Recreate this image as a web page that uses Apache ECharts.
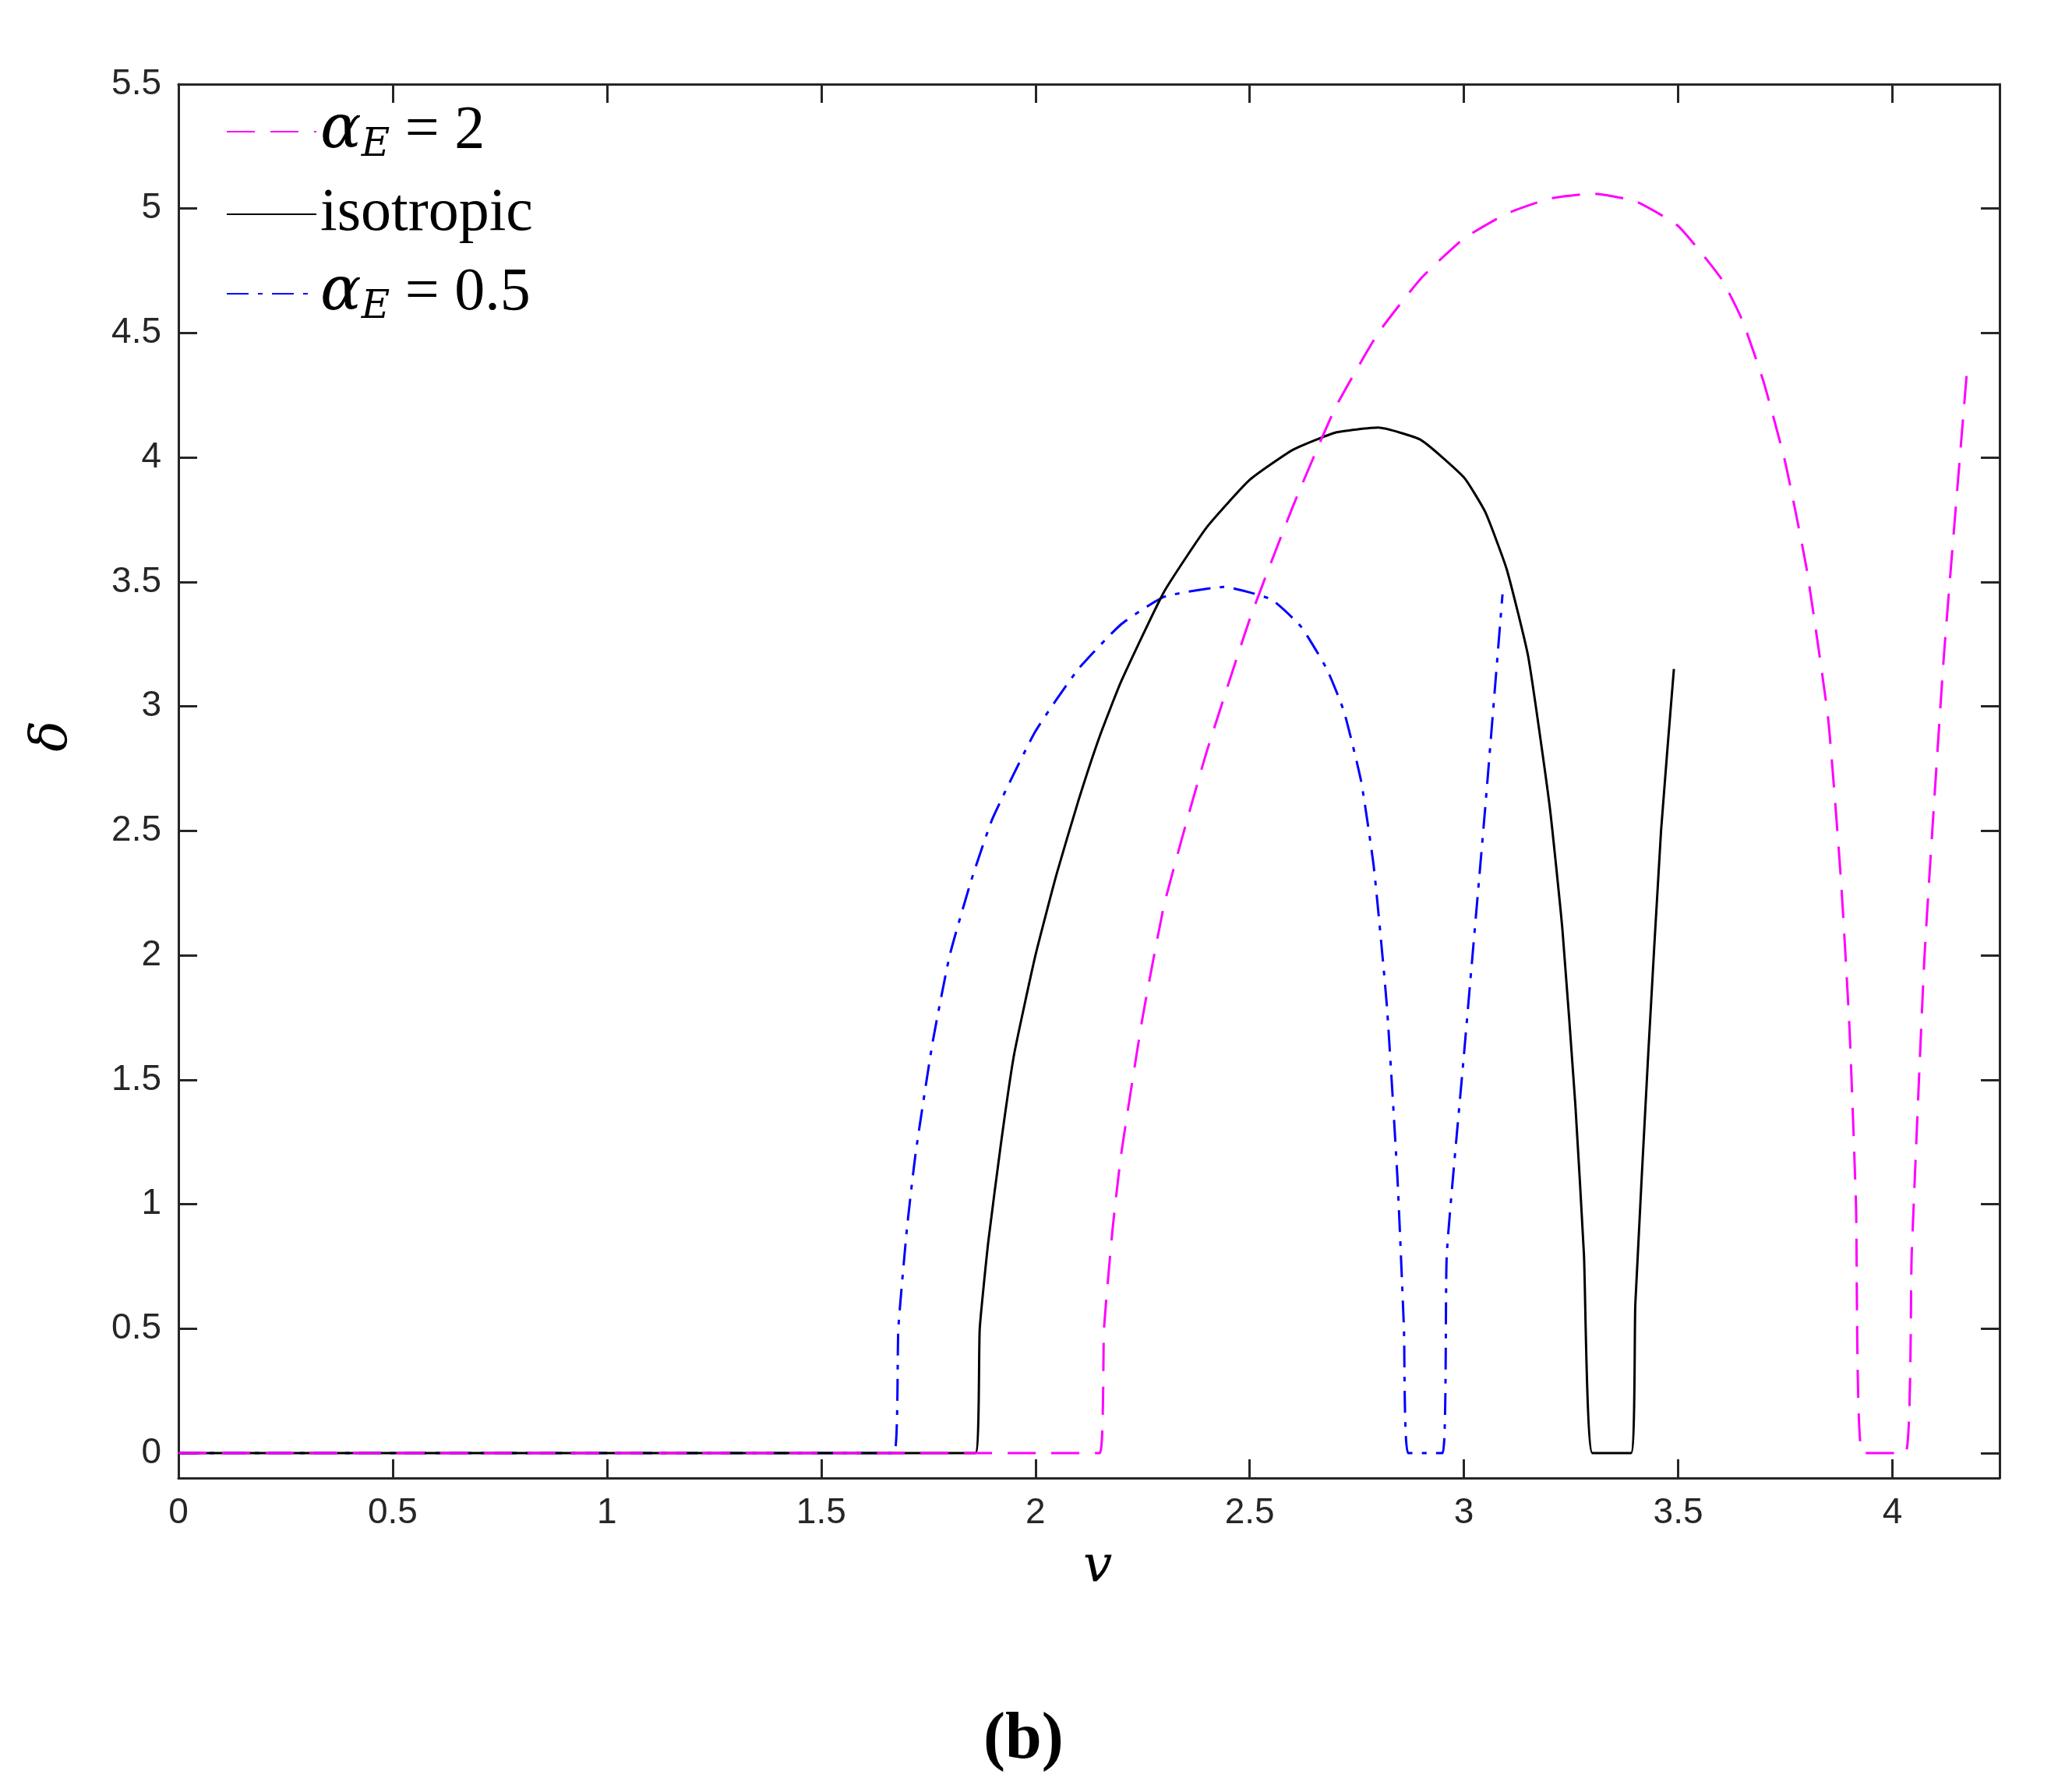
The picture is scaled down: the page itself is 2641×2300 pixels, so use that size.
<!DOCTYPE html>
<html>
<head>
<meta charset="utf-8">
<script src="https://cdn.jsdelivr.net/npm/echarts@6/dist/echarts.min.js"></script>
<style>
    html, body { margin: 0; padding: 0; background: #fff; }
    #chart { width: 2641px; height: 2300px; }
</style>
</head>
<body>
<div id="chart"></div>
<script>
    // alpha_E = 2 (magenta dashed)
    var magentaData = [[0, 0], [2.15, 0], [2.16, 0.5], [2.18, 0.9], [2.2, 1.2], [2.25, 1.75], [2.3, 2.2], [2.35, 2.52], [2.4, 2.82],
        [2.5, 3.35], [2.6, 3.8], [2.7, 4.2], [2.8, 4.5], [2.9, 4.72], [3.0, 4.88], [3.1, 4.98], [3.2, 5.04], [3.3, 5.06],
        [3.4, 5.03], [3.5, 4.93], [3.6, 4.72], [3.65, 4.55], [3.7, 4.3], [3.75, 3.98], [3.8, 3.55], [3.85, 2.95],
        [3.88, 2.3], [3.9, 1.7], [3.915, 1.0], [3.93, 0],
        [4.03, 0], [4.045, 0.8], [4.075, 2.0], [4.12, 3.2], [4.175, 4.37]];
    // isotropic (black solid)
    var blackData = [[0, 0], [1.86, 0], [1.87, 0.5], [1.89, 0.85], [1.92, 1.25], [1.95, 1.6], [2.0, 2.0], [2.05, 2.33],
        [2.1, 2.62], [2.15, 2.88], [2.2, 3.1], [2.3, 3.46], [2.4, 3.72], [2.5, 3.91], [2.6, 4.03], [2.7, 4.1],
        [2.8, 4.12], [2.9, 4.07], [3.0, 3.92], [3.05, 3.78], [3.1, 3.55], [3.15, 3.2], [3.2, 2.6], [3.23, 2.1],
        [3.26, 1.4], [3.28, 0.8], [3.3, 0],
        [3.39, 0], [3.40, 0.6], [3.43, 1.6], [3.46, 2.5], [3.49, 3.15]];
    // alpha_E = 0.5 (blue dash-dot)
    var blueData = [[0, 0], [1.67, 0], [1.68, 0.5], [1.7, 0.9], [1.72, 1.2], [1.76, 1.65], [1.8, 2.0], [1.85, 2.3],
        [1.9, 2.55], [2.0, 2.9], [2.1, 3.15], [2.2, 3.33], [2.3, 3.44], [2.44, 3.48], [2.55, 3.43], [2.62, 3.32],
        [2.68, 3.15], [2.72, 2.98], [2.76, 2.7], [2.79, 2.35], [2.82, 1.8], [2.845, 1.1], [2.86, 0.5], [2.87, 0],
        [2.95, 0], [2.96, 0.8], [3.0, 1.6], [3.05, 2.6], [3.09, 3.45]];

    var xTicks = [0, 0.5, 1, 1.5, 2, 2.5, 3, 3.5, 4];
    var yTicks = [0, 0.5, 1, 1.5, 2, 2.5, 3, 3.5, 4, 4.5, 5, 5.5];
    var legendNames = ['alpha2', 'isotropic', 'alpha05'];

    var chart = echarts.init(document.getElementById('chart'));
    var labelFont = {
        color: '#262626',
        fontSize: 46,
        fontFamily: 'Liberation Sans Narrow, Liberation Sans, Arial'
    };

    function makeAxis(pos, show, ticks, min, max) {
        return {
            type: 'value',
            position: pos,
            min: min,
            max: max,
            axisLine: { onZero: false, lineStyle: { color: '#262626', width: 3 } },
            splitLine: { show: false },
            axisTick: { show: true, inside: true, length: 24, customValues: ticks, lineStyle: { color: '#262626', width: 3 } },
            axisLabel: show ? Object.assign({ customValues: ticks, margin: 22 }, labelFont) : { show: false }
        };
    }

    var rich = {
        a: { fontFamily: 'DejaVu Serif', fontStyle: 'italic', fontSize: 78, color: '#000' },
        s: { fontFamily: 'DejaVu Serif', fontStyle: 'italic', fontSize: 50, color: '#000', padding: [36, 0, 0, 0] },
        t: { fontFamily: 'Liberation Serif', fontSize: 78, color: '#000' }
    };

    chart.setOption({
        backgroundColor: '#fff',
        animation: false,
        grid: { left: 229, right: 75, top: 108, bottom: 403 },
        legend: {
            left: 285,
            top: 125,
            orient: 'vertical',
            itemWidth: 115,
            itemHeight: 10,
            itemGap: 24,
            itemStyle: { opacity: 0 },
            data: legendNames,
            formatter: function (n) {
                if (n === 'alpha2') return '{a|α}{s|E}{t| = 2}';
                if (n === 'alpha05') return '{a|α}{s|E}{t| = 0.5}';
                return '{t|isotropic}';
            },
            textStyle: { rich: rich }
        },
        xAxis: [
            makeAxis('bottom', true, xTicks, 0, 4.25),
            makeAxis('top', false, xTicks, 0, 4.25)
        ],
        yAxis: [
            makeAxis('left', true, yTicks, -0.1, 5.5),
            makeAxis('right', false, yTicks, -0.1, 5.5)
        ],
        graphic: [
            { type: 'text', left: 1390, top: 1980, style: { text: 'v', font: 'italic 66px "DejaVu Serif"', fill: '#000' } },
            { type: 'text', left: 35, top: 925, rotation: Math.PI / 2,
              style: { text: 'δ', font: 'italic 66px "DejaVu Serif"', fill: '#000' } },
            { type: 'text', left: 1262, top: 2192, style: { text: '(b)', font: 'bold 84px "Liberation Serif"', fill: '#000' } }
        ],
        series: [{
            name: 'alpha2',
            type: 'line',
            data: magentaData,
            symbol: 'none',
            smooth: 0.15,
            lineStyle: { color: '#ff00ff', width: 3, type: [36, 20] },
            itemStyle: { color: '#ff00ff' },
            z: 3
        }, {
            name: 'isotropic',
            type: 'line',
            data: blackData,
            symbol: 'none',
            smooth: 0.15,
            lineStyle: { color: '#000', width: 3 },
            itemStyle: { color: '#000' },
            z: 2
        }, {
            name: 'alpha05',
            type: 'line',
            data: blueData,
            symbol: 'none',
            smooth: 0.15,
            lineStyle: { color: '#0000ff', width: 3, type: [28, 12, 6, 12] },
            itemStyle: { color: '#0000ff' },
            z: 1
        }]
    });
</script>
</body>
</html>
